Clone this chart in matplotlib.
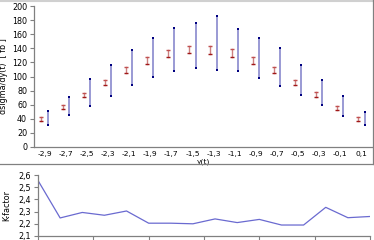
import numpy as np
import matplotlib.pyplot as plt
from matplotlib.lines import Line2D

# rapidity bins
y_bins = [-2.9, -2.7, -2.5, -2.3, -2.1, -1.9, -1.7, -1.5,
          -1.3, -1.1, -0.9, -0.7, -0.5, -0.3, -0.1, 0.1]
tick_labels = [f"{v:.1f}".replace(".", ",") for v in y_bins]

# red band (LO)
lo_low = [36.6, 54.1, 70.7, 88.1, 105.1, 118.3, 127.3, 133.0,
          132.4, 127.8, 117.4, 104.6, 87.6, 70.7, 52.7, 36.6]
lo_high = [42.3, 59.3, 77.2, 95.2, 114.1, 127.8, 138.1, 143.8,
           143.8, 138.6, 127.3, 114.1, 95.7, 77.7, 58.8, 42.3]

# blue band (NLO)
nlo_low = [30.5, 45.2, 58.8, 73.0, 87.6, 99.4, 107.9, 112.0,
           109.8, 107.9, 98.5, 87.1, 74.0, 59.8, 43.8, 30.5]
nlo_high = [51.3, 71.6, 96.1, 116.9, 137.2, 155.1, 168.4, 176.4,
            185.8, 167.9, 154.7, 140.0, 116.9, 95.2, 72.1, 50.3]

kfactor = [2.555, 2.248, 2.293, 2.270, 2.305, 2.205, 2.205, 2.200,
           2.240, 2.210, 2.236, 2.190, 2.190, 2.335, 2.250, 2.260]

W, H = 374, 240
fig = plt.figure(figsize=(W / 100, H / 100), dpi=100)
fig.patch.set_facecolor("white")

spine_col = "#808080"
fs = 5.8

# ---- upper panel
ax = fig.add_axes([34 / W, 1 - 147 / H, (372 - 34) / W, (147 - 6) / H])
idx = np.arange(len(y_bins))
off = 0.15

for i in idx:
    ax.plot([i - off, i - off], [lo_low[i], lo_high[i]], color="#cc8080", lw=1.0, zorder=2)
    ax.plot([i + off, i + off], [nlo_low[i], nlo_high[i]], color="#9a9ad4", lw=1.4, zorder=2)
ax.scatter(idx - off, lo_low, marker="_", s=9, color="#a01818", linewidths=1.0, zorder=3)
ax.scatter(idx - off, lo_high, marker="_", s=9, color="#c05050", linewidths=1.0, zorder=3)
ax.scatter(idx + off, nlo_low, marker="s", s=4.5, color="#000080", linewidths=0, zorder=3)
ax.scatter(idx + off, nlo_high, marker="s", s=4.5, color="#000080", linewidths=0, zorder=3)

ax.set_xlim(-0.5, len(y_bins) - 0.5)
ax.set_ylim(0, 200)
ax.set_yticks(range(0, 201, 20))
ax.set_xticks(idx)
ax.set_xticklabels(tick_labels, fontsize=fs - 0.4)
ax.tick_params(axis="x", length=0, pad=3)
ax.tick_params(axis="y", labelsize=fs, length=3, width=0.8, color=spine_col, pad=2)
for s in ["top", "right"]:
    ax.spines[s].set_visible(False)
for s in ["left", "bottom"]:
    ax.spines[s].set_color(spine_col)
    ax.spines[s].set_linewidth(0.9)
ax.set_ylabel("dsigma/dy(t)  [ fb ]", fontsize=fs)
ax.yaxis.set_label_coords(-0.077, 0.5)
ax.set_xlabel("y(t)", fontsize=fs - 0.4, labelpad=1)

# ---- lower panel
ax2 = fig.add_axes([38 / W, 1 - 236 / H, (370 - 38) / W, (236 - 175) / H])
ax2.plot(y_bins, kfactor, color="#6a6ad0", lw=0.9)
ax2.set_xlim(y_bins[0], y_bins[-1])
ax2.set_ylim(2.1, 2.6)
kt = [2.1, 2.2, 2.3, 2.4, 2.5, 2.6]
ax2.set_yticks(kt)
ax2.set_yticklabels([f"{v:.1f}".replace(".", ",") for v in kt])
ax2.set_xticks(np.arange(-2.9, 0.11, 0.5))
ax2.set_xticklabels([])
ax2.tick_params(axis="y", labelsize=fs, length=3, width=0.8, color=spine_col, pad=2)
ax2.tick_params(axis="x", length=4, width=0.8, color=spine_col)
for s in ["top", "right"]:
    ax2.spines[s].set_visible(False)
for s in ["left", "bottom"]:
    ax2.spines[s].set_color(spine_col)
    ax2.spines[s].set_linewidth(0.9)
ax2.set_ylabel("K-factor", fontsize=fs)
ax2.yaxis.set_label_coords(-0.08, 0.5)

# ---- frame lines
fig.add_artist(Line2D([0, 1], [1 - 0.5 / H, 1 - 0.5 / H], color="#d0d0d0", lw=1.5))
fig.add_artist(Line2D([0, 373 / W], [1 - 164 / H, 1 - 164 / H], color=spine_col, lw=0.9))
fig.add_artist(Line2D([373 / W, 373 / W], [1 - 164 / H, 1], color=spine_col, lw=0.9))

fig.savefig("out.png", dpi=100)
